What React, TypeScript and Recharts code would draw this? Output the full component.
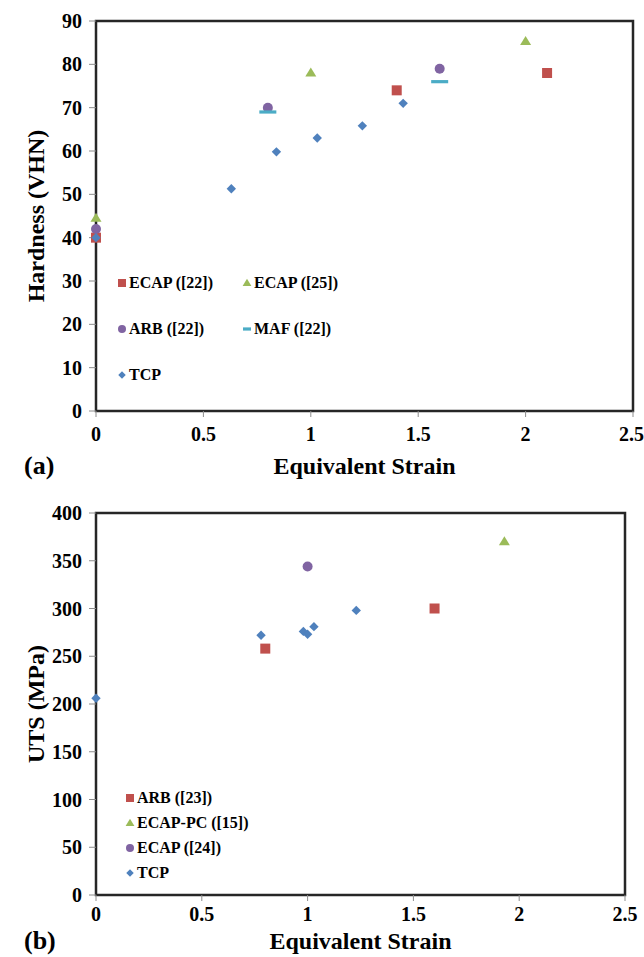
import React from "react";
import { ScatterChart, Scatter, XAxis, YAxis, ReferenceArea, Legend } from "recharts";

// shared axis ticks
const strainTicks = [0, 0.5, 1, 1.5, 2, 2.5];
const hardnessTicks = [0, 10, 20, 30, 40, 50, 60, 70, 80, 90];
const utsTicks = [0, 50, 100, 150, 200, 250, 300, 350, 400];

// (a) hardness
const hvEcap22Strain = [0, 1.4, 2.1];
const hvEcap22 = [40, 74, 78];
const hvEcap25Strain = [0, 1, 2];
const hvEcap25 = [44.5, 78, 85.3];
const hvArb22Strain = [0, 0.8, 1.6];
const hvArb22 = [42, 70, 79];
const hvMaf22Strain = [0.8, 1.6];
const hvMaf22 = [69, 76];
const hvTcpStrain = [0, 0.63, 0.84, 1.03, 1.24, 1.43];
const hvTcp = [40, 51.3, 59.8, 63, 65.8, 71];

// (b) UTS
const utsArb23Strain = [0.8, 1.6];
const utsArb23 = [258, 300];
const utsEcapPc15Strain = [1.93];
const utsEcapPc15 = [370];
const utsEcap24Strain = [1];
const utsEcap24 = [344];
const utsTcpStrain = [0, 0.78, 0.98, 1.0, 1.03, 1.23];
const utsTcp = [206, 272, 276, 273, 281, 298];

const RED = "#c0504d";
const GREEN = "#9bbb59";
const PURPLE = "#8064a2";
const CYAN = "#4bacc6";
const BLUE = "#4f81bd";

const serif = "'Liberation Serif', 'Times New Roman', serif";

const zip = (xs: number[], ys: number[]) => xs.map((x, i) => ({ x, y: ys[i] }));

const hardnessSeries = [
  { name: "ECAP ([22])", kind: "square", color: RED, data: zip(hvEcap22Strain, hvEcap22) },
  { name: "ECAP ([25])", kind: "triangle", color: GREEN, data: zip(hvEcap25Strain, hvEcap25) },
  { name: "ARB ([22])", kind: "circle", color: PURPLE, data: zip(hvArb22Strain, hvArb22) },
  { name: "MAF ([22])", kind: "dash", color: CYAN, data: zip(hvMaf22Strain, hvMaf22) },
  { name: "TCP", kind: "diamond", color: BLUE, data: zip(hvTcpStrain, hvTcp) },
];

const utsSeries = [
  { name: "ARB ([23])", kind: "square", color: RED, data: zip(utsArb23Strain, utsArb23) },
  { name: "ECAP-PC ([15])", kind: "triangle", color: GREEN, data: zip(utsEcapPc15Strain, utsEcapPc15) },
  { name: "ECAP ([24])", kind: "circle", color: PURPLE, data: zip(utsEcap24Strain, utsEcap24) },
  { name: "TCP", kind: "diamond", color: BLUE, data: zip(utsTcpStrain, utsTcp) },
];

function Marker({ kind, color, x, y, s, legend }: any) {
  if (x == null || y == null) return null;
  if (kind === "square") return <rect x={x - s / 2} y={y - s / 2} width={s} height={s} fill={color} />;
  if (kind === "triangle") {
    const h = s * 0.9;
    return (
      <polygon
        points={`${x},${y - h * 0.6} ${x + s * 0.55},${y + h * 0.4} ${x - s * 0.55},${y + h * 0.4}`}
        fill={color}
      />
    );
  }
  if (kind === "circle") return <circle cx={x} cy={y} r={s / 2} fill={color} />;
  if (kind === "diamond") {
    const d = s * 0.47;
    return <polygon points={`${x},${y - d} ${x + d},${y} ${x},${y + d} ${x - d},${y}`} fill={color} />;
  }
  const w = legend ? s : s * 1.7;
  return <rect x={x - w / 2} y={y - 1.6} width={w} height={3.2} fill={color} />;
}

const tickFont = { fill: "#000", fontSize: 20, fontWeight: 700, fontFamily: serif };
const titleFont = { fill: "#000", fontSize: 24, fontWeight: 700, fontFamily: serif };

function legendBlock(items: any[], cols: number, colW: number, rowH: number, rowGap: number) {
  return () => (
    <div
      style={{
        display: "grid",
        gridTemplateColumns: `repeat(${cols}, ${colW}px)`,
        gridAutoRows: `${rowH}px`,
        rowGap,
        fontFamily: serif,
        fontWeight: 700,
        fontSize: 16,
        color: "#000",
      }}
    >
      {items.map((s) => (
        <div key={s.name} style={{ display: "flex", alignItems: "center", whiteSpace: "nowrap" }}>
          <svg width={10} height={10} style={{ marginRight: 2, flex: "none" }}>
            <Marker kind={s.kind} color={s.color} x={5} y={5} s={8} legend />
          </svg>
          <span>{s.name}</span>
        </div>
      ))}
    </div>
  );
}

function Panel({ series, yTicks, yMax, yTitle, height, margin, xAxisHeight, xTickMargin, xTitleOffset, legend, legendPos }: any) {
  return (
    <ScatterChart width={644} height={height} margin={margin}>
      <XAxis
        type="number"
        dataKey="x"
        domain={[0, 2.5]}
        ticks={strainTicks}
        axisLine={false}
        tickLine={{ stroke: "#8c8c8c" }}
        tickSize={6}
        tickMargin={xTickMargin}
        tick={tickFont}
        height={xAxisHeight}
        label={{ value: "Equivalent Strain", position: "insideBottom", offset: xTitleOffset, ...titleFont }}
      />
      <YAxis
        type="number"
        dataKey="y"
        domain={[0, yMax]}
        ticks={yTicks}
        width={96}
        axisLine={false}
        tickLine={{ stroke: "#8c8c8c" }}
        tickSize={7}
        tickMargin={7}
        tick={tickFont}
        label={{
          value: yTitle,
          angle: -90,
          position: "insideLeft",
          offset: 35,
          ...titleFont,
          style: { textAnchor: "middle" },
        }}
      />
      <ReferenceArea x1={0} x2={2.5} y1={0} y2={yMax} fill="none" stroke="#262626" strokeWidth={2.5} />
      {series.map((s: any) => (
        <Scatter
          key={s.name}
          name={s.name}
          data={s.data}
          fill={s.color}
          isAnimationActive={false}
          shape={(p: any) => <Marker kind={s.kind} color={s.color} x={p.cx} y={p.cy} s={10} />}
        />
      ))}
      <Legend
        layout="horizontal"
        verticalAlign="middle"
        align="center"
        content={legend}
        wrapperStyle={{ left: legendPos.left, top: legendPos.top, width: 300, height: "auto" }}
      />
    </ScatterChart>
  );
}

const tag = (top: number) =>
  ({
    position: "absolute",
    left: 24,
    top,
    fontFamily: serif,
    fontWeight: 700,
    fontSize: 26,
    lineHeight: "30px",
    color: "#000",
  }) as React.CSSProperties;

export default function App() {
  return (
    <div style={{ position: "absolute", left: 0, top: 0, width: 644, height: 957, background: "#fff" }}>
      <div style={{ position: "absolute", left: 0, top: 0 }}>
        <Panel
          series={hardnessSeries}
          yTicks={hardnessTicks}
          yMax={90}
          yTitle="Hardness (VHN)"
          height={490}
          margin={{ top: 21, right: 11, left: 0, bottom: 0 }}
          xAxisHeight={79}
          xTickMargin={10}
          xTitleOffset={16}
          legend={legendBlock(hardnessSeries, 2, 125, 20, 26)}
          legendPos={{ left: 117, top: 273 }}
        />
      </div>
      <div style={{ position: "absolute", left: 0, top: 490 }}>
        <Panel
          series={utsSeries}
          yTicks={utsTicks}
          yMax={400}
          yTitle="UTS (MPa)"
          height={467}
          margin={{ top: 23, right: 19, left: 0, bottom: 0 }}
          xAxisHeight={62}
          xTickMargin={6}
          xTitleOffset={8}
          legend={legendBlock(utsSeries, 1, 200, 25, 0)}
          legendPos={{ left: 125, top: 295 }}
        />
      </div>
      <div style={tag(451)}>(a)</div>
      <div style={tag(926)}>(b)</div>
    </div>
  );
}
